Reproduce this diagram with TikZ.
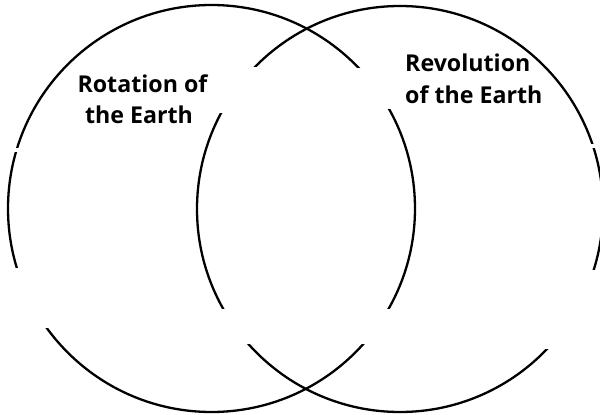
\documentclass[tikz,border=0pt]{standalone}
\usepackage{fontspec}
\newfontfamily\labfont{Open Sans}
\begin{document}
\begin{tikzpicture}[x=1pt,y=-1pt,
  ring/.style={draw=black,line width=2.3pt},
  mask/.style={fill=white,draw=none},
  lab/.style={font=\labfont\bfseries\fontsize{23.2}{31}\selectfont,inner sep=0pt,text=black}]
\useasboundingbox (0,0) rectangle (600,415);
\begin{scope}
\clip (0,0) rectangle (600,415);
\node[circle,ring,minimum size=407pt,inner sep=0pt] (lc) at (211.5,208.5) {};
\node[circle,ring,minimum size=406pt,inner sep=0pt] (rc) at (400,209) {};
\end{scope}
% white gaps (hidden boxes)
\fill[mask] (0,148) rectangle (30,152);
\fill[mask] (0,268) rectangle (60,328);
\fill[mask] (575,144) rectangle (600,148);
\fill[mask] (530,270) rectangle (600,349);
\fill[mask] (212,67) rectangle (265,113);
\fill[mask] (345,68) rectangle (398,109);
\fill[mask] (212,309) rectangle (260,344);
\fill[mask] (350,309) rectangle (398,344);
% labels
\node[lab,anchor=base] (rot1) at (142.5,92) {Rotation of};
\node[lab,anchor=base] (rot2) at (139,123) {the Earth};
\node[lab,anchor=base west] (rev1) at (405,71) {Revolution};
\node[lab,anchor=base west] (rev2) at (405,103) {of the Earth};
\end{tikzpicture}
\end{document}
